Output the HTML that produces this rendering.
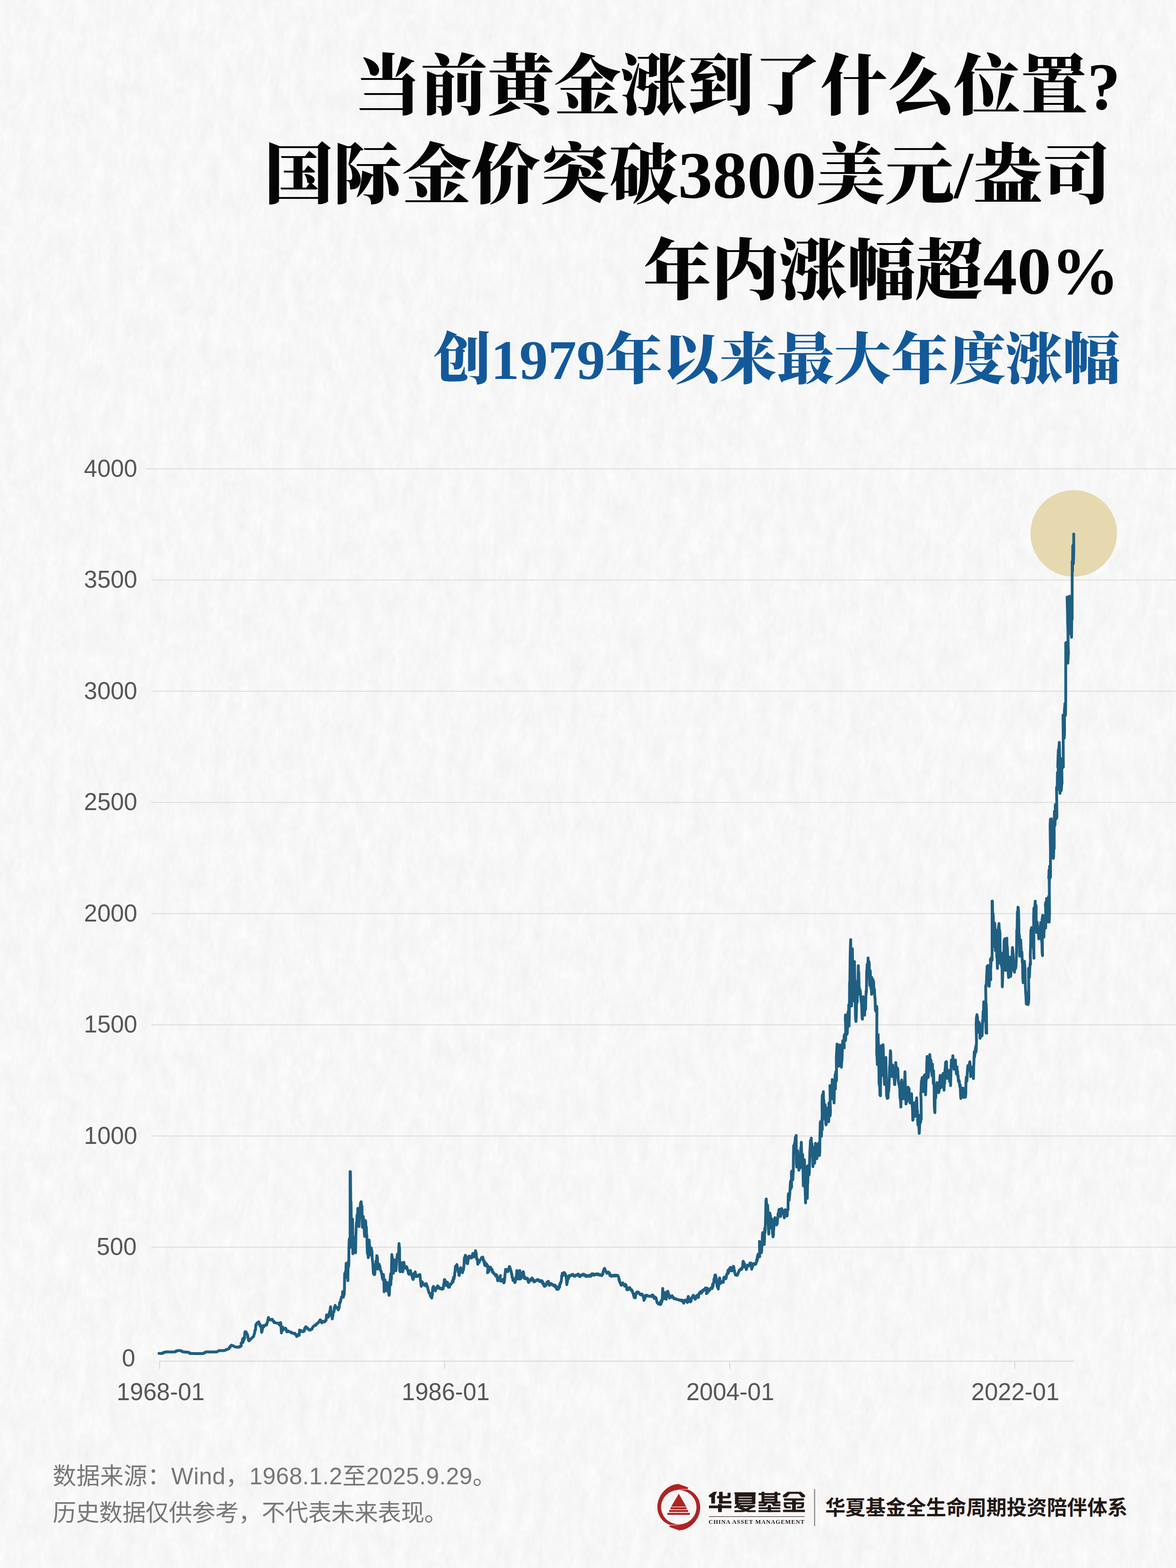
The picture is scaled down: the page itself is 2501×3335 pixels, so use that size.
<!DOCTYPE html>
<html lang="zh-CN"><head><meta charset="utf-8"><title>当前黄金涨到了什么位置？</title>
<style>
html,body{margin:0;padding:0}
body{width:2501px;height:3335px;position:relative;overflow:hidden;background:#f6f6f6;font-family:"Liberation Sans",sans-serif}
svg{position:absolute;left:0;top:0}
.sr{position:absolute;margin:0;color:transparent;white-space:nowrap;overflow:hidden;pointer-events:none}
.sr h1,.sr h2{margin:0;font-weight:bold;color:transparent}
.cam{position:absolute;left:1506.5px;top:3227.5px;font-family:"Liberation Serif",serif;font-weight:bold;font-size:12.6px;letter-spacing:1.05px;will-change:transform;color:#231815;white-space:nowrap;line-height:18px}
</style></head>
<body>
<svg width="2501" height="3335" viewBox="0 0 2501 3335">
<defs><filter id="paper" x="0" y="0" width="100%" height="100%" color-interpolation-filters="sRGB">
<feTurbulence type="fractalNoise" baseFrequency="0.04 0.018" numOctaves="3" seed="3" result="t1"/>
<feTurbulence type="fractalNoise" baseFrequency="0.12 0.06" numOctaves="2" seed="11" result="t2"/>
<feComposite in="t1" in2="t2" operator="arithmetic" k1="0" k2="0.62" k3="0.38" k4="0"/>
<feColorMatrix type="matrix" values="0.072 0 0 0 0.932  0.072 0 0 0 0.932  0.072 0 0 0 0.9315  0 0 0 0 1"/>
</filter></defs>
<g transform="rotate(3 1250 1667)"><rect x="-200" y="-200" width="2901" height="3735" filter="url(#paper)"/></g>
<text x="2383" y="232" text-anchor="end" textLength="1630" lengthAdjust="spacingAndGlyphs" font-family="&quot;Liberation Serif&quot;, &quot;Noto Serif CJK SC&quot;, serif" font-weight="900" font-size="141" fill="#050505">当前黄金涨到了什么位置?</text>
<text x="2363" y="421" text-anchor="end" textLength="1801" lengthAdjust="spacingAndGlyphs" font-family="&quot;Liberation Serif&quot;, &quot;Noto Serif CJK SC&quot;, serif" font-weight="900" font-size="141" fill="#050505">国际金价突破3800美元/盎司</text>
<text x="2380" y="625" text-anchor="end" textLength="1012" lengthAdjust="spacingAndGlyphs" font-family="&quot;Liberation Serif&quot;, &quot;Noto Serif CJK SC&quot;, serif" font-weight="900" font-size="141" fill="#050505">年内涨幅超40%</text>
<text x="2382" y="806" text-anchor="end" textLength="1460" lengthAdjust="spacingAndGlyphs" font-family="&quot;Liberation Serif&quot;, &quot;Noto Serif CJK SC&quot;, serif" font-weight="900" font-size="119" fill="#13599a">创1979年以来最大年度涨幅</text>
<rect x="310" y="996.4" width="2191" height="1.6" fill="#d8d6d4"/>
<rect x="322" y="1232.9" width="2179" height="1.6" fill="#d8d6d4"/>
<rect x="322" y="1469.4" width="2179" height="1.6" fill="#d8d6d4"/>
<rect x="322" y="1705.9" width="2179" height="1.6" fill="#d8d6d4"/>
<rect x="322" y="1942.4" width="2179" height="1.6" fill="#d8d6d4"/>
<rect x="322" y="2178.9" width="2179" height="1.6" fill="#d8d6d4"/>
<rect x="322" y="2415.4" width="2179" height="1.6" fill="#d8d6d4"/>
<rect x="322" y="2651.9" width="2179" height="1.6" fill="#d8d6d4"/>
<rect x="338.5" y="2894.3" width="1944.9" height="1.8" fill="#d8d6d4"/>
<rect x="338.5" y="2895.2" width="1.8" height="16.5" fill="#d8d6d4"/>
<rect x="944.7" y="2895.2" width="1.8" height="16.5" fill="#d8d6d4"/>
<rect x="1551.0" y="2895.2" width="1.8" height="16.5" fill="#d8d6d4"/>
<rect x="2157.2" y="2895.2" width="1.8" height="16.5" fill="#d8d6d4"/>
<g font-family="&quot;Liberation Sans&quot;, sans-serif" font-size="51" fill="#555756" text-anchor="end">
<text x="292" y="1013.8">4000</text>
<text x="292" y="1250.3">3500</text>
<text x="292" y="1486.8">3000</text>
<text x="292" y="1723.3">2500</text>
<text x="292" y="1959.8">2000</text>
<text x="292" y="2196.3">1500</text>
<text x="292" y="2432.8">1000</text>
<text x="290.5" y="2669.3">500</text>
<text x="287.5" y="2906.3">0</text>
</g>
<g font-family="&quot;Liberation Sans&quot;, sans-serif" font-size="51" fill="#555756" text-anchor="middle">
<text x="341.6" y="2978.2">1968-01</text>
<text x="947.9" y="2978.2">1986-01</text>
<text x="1553" y="2978.2">2004-01</text>
<text x="2159.2" y="2978.2">2022-01</text>
</g>
<circle cx="2283.5" cy="1134.4" r="92" fill="#e6d8af"/>
<path d="M338.1 2878.4 L338.8 2878.4 L339.4 2878.5 L340.1 2878.8 L340.8 2878.6 L341.4 2878.7 L342.1 2878.8 L342.8 2878.6 L343.4 2878.8 L344.1 2878.9 L344.8 2878.6 L345.4 2878.4 L346.1 2877.8 L346.7 2877.4 L347.4 2876.7 L348.0 2877.5 L348.7 2877.0 L349.3 2876.2 L350.0 2876.3 L350.6 2876.0 L351.3 2875.5 L352.0 2875.6 L352.7 2875.5 L353.4 2875.4 L354.1 2875.3 L354.7 2875.5 L355.4 2875.3 L356.1 2875.4 L356.8 2875.4 L357.5 2875.3 L358.2 2875.5 L358.9 2875.5 L359.6 2875.6 L360.3 2875.5 L361.0 2875.6 L361.6 2875.5 L362.3 2875.6 L363.0 2875.5 L363.7 2875.4 L364.4 2875.7 L365.1 2875.7 L365.8 2875.6 L366.5 2875.6 L367.2 2875.4 L367.8 2875.4 L368.5 2875.4 L369.2 2875.3 L369.9 2875.6 L370.6 2875.5 L371.3 2875.2 L371.9 2875.1 L372.6 2874.7 L373.3 2875.1 L373.9 2874.7 L374.6 2873.2 L375.2 2873.3 L375.9 2873.6 L376.6 2873.1 L377.2 2873.1 L377.9 2872.6 L378.6 2872.6 L379.2 2872.4 L379.9 2872.7 L380.5 2872.7 L381.2 2872.5 L381.9 2872.4 L382.5 2872.5 L383.2 2872.6 L383.9 2873.1 L384.5 2873.3 L385.2 2872.9 L385.9 2873.4 L386.5 2873.5 L387.2 2873.7 L387.9 2875.0 L388.6 2874.8 L389.2 2875.2 L389.9 2875.5 L390.6 2875.5 L391.3 2875.4 L392.0 2875.7 L392.7 2875.5 L393.4 2875.7 L394.1 2875.6 L394.8 2875.7 L395.4 2875.7 L396.1 2875.7 L396.8 2876.1 L397.5 2876.0 L398.2 2875.8 L398.9 2876.1 L399.6 2876.0 L400.3 2876.2 L400.9 2876.5 L401.6 2877.4 L402.3 2877.5 L402.9 2877.1 L403.6 2878.6 L404.3 2877.9 L404.9 2878.5 L405.6 2878.9 L406.3 2879.0 L407.0 2878.8 L407.7 2878.8 L408.4 2878.7 L409.1 2878.7 L409.8 2878.9 L410.5 2878.8 L411.2 2878.9 L411.9 2878.8 L412.6 2878.9 L413.3 2879.1 L414.0 2878.9 L414.7 2878.9 L415.4 2879.0 L416.1 2878.8 L416.8 2878.8 L417.5 2879.1 L418.2 2879.0 L418.9 2878.8 L419.5 2878.8 L420.2 2879.0 L420.9 2879.1 L421.6 2878.8 L422.3 2879.1 L423.0 2879.1 L423.7 2878.9 L424.4 2878.9 L425.1 2878.7 L425.8 2878.7 L426.5 2879.1 L427.2 2878.8 L427.9 2879.0 L428.6 2878.8 L429.3 2879.0 L430.0 2878.9 L430.7 2878.8 L431.4 2878.8 L432.1 2878.9 L432.8 2878.6 L433.4 2877.5 L434.1 2877.4 L434.8 2877.5 L435.4 2877.5 L436.1 2876.8 L436.8 2875.9 L437.4 2876.1 L438.1 2875.5 L438.8 2875.4 L439.5 2875.3 L440.2 2875.4 L440.9 2875.5 L441.6 2875.3 L442.3 2875.4 L443.0 2875.4 L443.7 2875.5 L444.4 2875.3 L445.1 2875.4 L445.8 2875.7 L446.5 2875.7 L447.2 2875.6 L447.9 2875.6 L448.6 2875.5 L449.3 2875.3 L450.0 2875.3 L450.7 2875.3 L451.4 2875.7 L452.1 2875.6 L452.8 2875.7 L453.5 2875.3 L454.2 2875.6 L454.9 2875.5 L455.6 2875.6 L456.3 2875.4 L457.0 2875.7 L457.7 2875.3 L458.4 2875.5 L459.1 2875.6 L459.8 2875.5 L460.5 2875.3 L461.2 2875.2 L461.8 2874.8 L462.5 2874.6 L463.2 2874.5 L463.9 2873.4 L464.5 2873.5 L465.2 2873.1 L465.9 2872.6 L466.6 2872.8 L467.2 2872.6 L467.9 2872.7 L468.6 2872.8 L469.3 2872.6 L469.9 2872.7 L470.6 2872.5 L471.3 2872.6 L472.0 2872.6 L472.6 2872.4 L473.3 2872.7 L474.0 2872.8 L474.7 2872.8 L475.3 2872.7 L476.0 2872.5 L476.7 2872.6 L477.4 2872.4 L478.1 2872.1 L478.8 2871.8 L479.5 2871.7 L480.2 2871.1 L480.9 2871.1 L481.5 2869.9 L482.2 2870.5 L482.9 2870.1 L483.6 2869.8 L484.3 2869.7 L485.0 2869.3 L485.7 2869.1 L486.4 2868.8 L487.1 2868.2 L487.7 2866.4 L488.4 2864.8 L489.1 2864.8 L489.7 2865.1 L490.4 2862.8 L491.1 2861.8 L491.7 2862.2 L492.4 2861.1 L493.0 2861.5 L493.7 2861.7 L494.3 2862.2 L495.0 2862.2 L495.6 2862.7 L496.3 2862.3 L496.9 2863.0 L497.6 2863.6 L498.2 2863.9 L498.9 2864.2 L499.5 2864.3 L500.2 2864.7 L500.8 2864.9 L501.5 2864.9 L502.1 2864.8 L502.8 2865.0 L503.5 2865.3 L504.1 2865.4 L504.8 2865.3 L505.4 2865.5 L506.1 2865.1 L506.8 2865.1 L507.4 2865.3 L508.1 2865.4 L508.8 2864.3 L509.5 2863.8 L510.2 2864.1 L510.8 2864.4 L511.5 2863.7 L512.2 2862.7 L512.9 2863.0 L512.9 2856.7 L513.6 2856.7 L514.2 2856.2 L514.9 2854.0 L515.5 2850.8 L516.2 2847.7 L516.8 2855.2 L517.5 2846.0 L518.1 2850.7 L518.8 2849.2 L519.4 2847.0 L520.1 2847.1 L520.6 2833.8 L521.2 2835.6 L521.8 2832.1 L522.4 2833.0 L523.1 2834.9 L523.7 2833.1 L524.3 2837.5 L524.9 2836.2 L525.5 2836.7 L526.2 2838.6 L526.8 2840.3 L527.4 2845.9 L528.0 2847.1 L528.7 2850.4 L529.3 2851.9 L530.0 2851.4 L530.6 2850.8 L531.3 2850.3 L532.0 2849.5 L532.7 2848.5 L533.3 2848.0 L534.0 2847.2 L534.7 2846.4 L535.4 2846.1 L536.0 2845.6 L536.7 2844.6 L537.4 2844.1 L538.1 2843.5 L538.7 2843.1 L539.4 2842.3 L540.1 2839.4 L540.7 2837.5 L541.4 2835.8 L542.1 2829.5 L542.7 2830.3 L543.4 2828.4 L544.1 2817.7 L544.7 2819.1 L545.4 2815.7 L546.1 2815.6 L546.8 2813.6 L547.5 2813.7 L548.2 2813.5 L548.9 2813.6 L549.6 2811.7 L550.3 2811.4 L551.0 2813.0 L551.7 2817.1 L552.4 2817.8 L553.0 2820.3 L553.7 2817.7 L554.4 2820.5 L555.1 2820.6 L555.7 2825.6 L556.3 2833.8 L556.9 2832.6 L557.5 2830.7 L558.1 2827.3 L558.7 2825.3 L559.3 2820.1 L559.9 2819.3 L560.6 2821.4 L561.2 2821.8 L561.9 2819.4 L562.5 2818.9 L563.2 2819.1 L563.8 2818.4 L564.5 2819.1 L565.1 2818.8 L565.8 2817.5 L566.4 2816.0 L567.1 2818.1 L567.7 2815.0 L568.4 2812.8 L569.0 2811.2 L569.7 2806.9 L570.3 2804.2 L571.0 2802.1 L571.7 2806.9 L572.3 2804.9 L573.0 2806.9 L573.7 2806.1 L574.4 2807.3 L575.1 2806.8 L575.8 2807.4 L576.5 2806.3 L577.1 2806.1 L577.8 2806.5 L578.5 2806.6 L579.2 2806.1 L579.9 2808.3 L580.6 2808.8 L581.3 2810.7 L581.9 2810.2 L582.6 2812.7 L583.3 2810.9 L584.0 2813.3 L584.7 2813.1 L585.4 2813.5 L586.1 2813.4 L586.8 2813.9 L587.5 2814.0 L588.2 2814.0 L588.9 2814.4 L589.6 2814.2 L590.3 2814.1 L591.0 2814.2 L591.7 2814.8 L592.4 2815.0 L593.1 2814.4 L593.8 2817.3 L594.5 2818.3 L595.2 2815.2 L595.9 2815.6 L596.6 2813.0 L597.3 2815.3 L597.9 2825.4 L598.5 2835.0 L599.1 2830.5 L599.7 2825.9 L600.4 2826.7 L601.1 2822.5 L601.8 2829.3 L602.5 2826.0 L603.2 2825.5 L603.9 2826.2 L604.6 2826.1 L605.3 2825.9 L606.0 2826.4 L606.7 2824.8 L607.4 2826.0 L608.1 2825.9 L608.7 2828.4 L609.3 2831.4 L610.0 2832.7 L610.7 2832.7 L611.3 2831.0 L612.0 2831.6 L612.7 2830.7 L613.4 2831.8 L614.0 2832.3 L614.7 2832.3 L615.4 2832.1 L616.1 2832.4 L616.7 2832.6 L617.4 2832.8 L618.0 2833.6 L618.7 2834.4 L619.3 2833.3 L620.0 2834.8 L620.6 2834.2 L621.3 2834.6 L621.9 2835.0 L622.6 2835.5 L623.3 2835.9 L623.9 2835.7 L624.6 2835.9 L625.3 2836.5 L625.9 2836.0 L626.6 2837.5 L627.3 2835.8 L627.9 2837.2 L628.6 2837.4 L629.2 2838.1 L629.8 2839.3 L630.4 2841.4 L631.0 2842.7 L631.6 2841.8 L632.2 2840.6 L632.8 2840.1 L633.4 2839.8 L634.0 2840.0 L634.6 2838.1 L635.1 2838.3 L635.7 2840.5 L636.3 2839.8 L636.7 2835.0 L637.1 2829.0 L637.7 2829.5 L638.3 2831.3 L638.9 2830.7 L639.5 2832.1 L640.1 2829.9 L640.7 2831.4 L641.4 2831.9 L642.1 2832.2 L642.8 2832.1 L643.4 2831.6 L644.1 2831.7 L644.8 2832.4 L645.5 2832.1 L646.2 2829.5 L646.9 2831.2 L647.6 2829.3 L648.2 2824.7 L648.9 2823.7 L649.6 2824.2 L650.3 2821.8 L651.0 2822.2 L651.6 2822.7 L652.3 2824.1 L653.0 2824.2 L653.6 2826.0 L654.3 2824.5 L654.9 2826.1 L655.6 2827.2 L656.3 2827.3 L656.9 2828.1 L657.6 2829.0 L658.3 2828.9 L658.9 2829.1 L659.6 2829.0 L660.3 2827.3 L660.9 2827.7 L661.6 2827.8 L662.3 2827.1 L662.9 2827.4 L663.6 2826.6 L664.2 2824.7 L664.8 2823.4 L665.4 2822.5 L666.0 2821.3 L666.6 2821.7 L667.2 2820.6 L667.9 2820.1 L668.6 2819.8 L669.3 2818.7 L669.9 2818.2 L670.6 2817.7 L671.3 2817.8 L672.0 2818.6 L672.7 2816.8 L673.4 2815.5 L674.1 2815.0 L674.7 2815.3 L675.4 2814.3 L676.1 2814.1 L676.8 2813.3 L677.4 2812.0 L678.0 2811.7 L678.6 2811.1 L679.2 2810.1 L679.9 2809.8 L680.5 2807.4 L681.1 2808.6 L681.7 2807.3 L682.3 2809.8 L682.9 2809.4 L683.5 2811.7 L684.1 2813.3 L683.9 2813.0 L684.6 2813.4 L685.3 2812.0 L686.0 2811.1 L686.6 2810.7 L687.3 2811.3 L688.0 2810.4 L688.7 2811.6 L689.4 2810.6 L690.1 2810.9 L690.8 2811.3 L691.4 2809.8 L692.1 2808.4 L692.8 2809.0 L693.5 2808.2 L694.0 2802.4 L694.5 2796.6 L695.1 2799.7 L695.8 2799.7 L696.4 2797.8 L697.0 2801.8 L697.7 2801.8 L698.3 2801.4 L699.0 2800.5 L699.7 2797.7 L700.4 2791.1 L701.0 2792.0 L701.7 2789.2 L702.4 2784.2 L703.1 2779.2 L703.7 2786.1 L704.3 2790.4 L704.9 2791.4 L705.4 2798.7 L706.0 2796.9 L706.6 2805.3 L707.3 2800.6 L708.0 2798.5 L708.7 2790.5 L709.4 2790.9 L710.0 2790.6 L710.7 2787.3 L711.4 2779.9 L712.1 2780.8 L712.8 2776.3 L713.3 2779.2 L713.8 2781.2 L714.5 2780.7 L715.2 2781.9 L715.9 2781.5 L716.5 2781.3 L717.2 2780.7 L717.9 2782.6 L718.6 2781.2 L719.0 2784.6 L719.5 2786.0 L720.1 2784.5 L720.8 2782.0 L721.5 2780.6 L722.1 2771.1 L722.8 2772.3 L723.4 2768.6 L724.1 2769.5 L724.8 2763.6 L725.5 2762.9 L726.1 2758.8 L726.8 2758.2 L727.5 2757.8 L728.2 2757.0 L728.7 2747.3 L729.2 2751.3 L729.8 2747.5 L730.4 2758.9 L730.9 2753.3 L731.5 2753.0 L732.1 2753.2 L732.5 2741.3 L733.0 2708.8 L733.6 2707.7 L734.3 2714.1 L735.0 2704.0 L735.6 2705.1 L736.2 2687.0 L736.9 2693.4 L737.4 2707.1 L737.9 2716.5 L738.5 2718.1 L739.2 2698.0 L739.8 2723.8 L740.4 2684.2 L741.1 2694.4 L741.7 2691.5 L742.1 2652.9 L742.7 2635.6 L743.4 2648.8 L744.0 2652.3 L744.6 2645.2 L744.6 2491.8 L745.2 2492.3 L745.9 2556.0 L746.5 2556.4 L747.0 2600.9 L747.5 2652.9 L748.1 2639.2 L748.6 2627.6 L749.2 2601.8 L749.8 2593.1 L750.4 2666.4 L751.0 2651.4 L751.6 2656.5 L752.1 2647.2 L752.7 2633.0 L753.3 2631.7 L753.9 2643.9 L754.5 2639.5 L755.0 2640.0 L755.6 2652.1 L756.2 2664.5 L756.8 2628.3 L757.5 2610.7 L758.1 2600.8 L758.7 2603.1 L759.3 2584.8 L759.8 2595.5 L760.4 2584.4 L761.0 2569.9 L761.6 2575.8 L762.3 2604.9 L762.9 2608.5 L763.5 2608.6 L764.2 2583.7 L764.8 2591.2 L765.5 2573.7 L766.1 2566.3 L766.8 2558.4 L767.4 2569.2 L768.0 2556.0 L768.5 2562.9 L769.1 2572.5 L769.7 2565.1 L770.2 2592.2 L770.7 2610.5 L771.3 2602.0 L772.0 2606.3 L772.6 2587.3 L773.2 2603.3 L773.8 2606.7 L774.3 2603.7 L774.9 2623.2 L775.5 2629.7 L776.0 2613.6 L776.4 2598.9 L777.0 2595.9 L777.7 2598.5 L778.3 2615.1 L779.0 2609.2 L779.6 2623.0 L780.3 2629.7 L780.8 2651.6 L781.3 2664.5 L781.9 2667.3 L782.6 2667.6 L783.2 2675.1 L783.8 2664.0 L784.5 2648.7 L785.1 2637.5 L785.7 2647.7 L786.3 2650.3 L786.8 2663.2 L787.4 2668.6 L788.0 2668.3 L788.6 2669.6 L789.2 2659.0 L789.7 2654.4 L790.3 2668.6 L790.9 2660.6 L791.5 2674.2 L792.1 2680.6 L792.6 2684.7 L793.2 2692.0 L793.8 2705.0 L794.4 2709.5 L795.0 2708.5 L795.5 2710.1 L796.1 2711.1 L796.7 2710.8 L797.3 2707.8 L797.9 2694.9 L798.4 2689.9 L799.0 2694.2 L799.6 2681.8 L800.2 2686.0 L800.8 2684.0 L801.3 2670.8 L801.9 2671.1 L802.5 2674.1 L803.0 2684.3 L803.4 2699.2 L804.0 2697.5 L804.7 2698.5 L805.3 2692.3 L806.0 2695.8 L806.6 2689.0 L807.3 2693.4 L807.9 2693.0 L808.6 2699.7 L809.2 2700.7 L809.9 2703.7 L810.6 2703.4 L811.2 2706.9 L811.8 2710.6 L812.5 2710.3 L813.1 2718.5 L813.7 2715.8 L814.3 2721.3 L814.8 2722.3 L815.4 2710.6 L816.0 2716.5 L816.5 2727.5 L816.9 2747.4 L817.6 2742.6 L818.2 2732.1 L818.9 2722.3 L819.5 2729.3 L820.2 2726.7 L820.8 2733.0 L821.4 2735.4 L822.1 2744.4 L822.7 2745.5 L823.2 2735.2 L823.7 2728.1 L824.4 2734.2 L825.0 2743.1 L825.7 2739.5 L826.3 2746.7 L827.0 2753.6 L827.6 2755.1 L828.2 2749.5 L828.9 2731.1 L829.5 2722.3 L830.1 2718.1 L830.7 2709.6 L831.2 2732.3 L831.8 2708.3 L832.4 2720.4 L832.8 2686.3 L833.3 2668.3 L834.0 2673.4 L834.6 2675.7 L835.3 2679.9 L836.0 2697.4 L836.6 2707.9 L837.2 2697.1 L837.9 2698.0 L838.5 2682.2 L839.1 2679.9 L839.7 2681.0 L840.3 2691.1 L840.8 2688.6 L841.4 2696.0 L842.0 2703.0 L842.7 2696.4 L843.3 2688.6 L844.0 2676.0 L844.6 2671.0 L845.3 2667.4 L845.9 2670.5 L846.5 2676.3 L847.2 2668.7 L847.8 2670.2 L848.2 2651.9 L848.7 2645.0 L849.2 2656.5 L849.7 2652.9 L850.1 2703.0 L850.7 2701.4 L851.3 2704.9 L851.9 2702.7 L852.4 2699.4 L853.0 2687.4 L853.6 2685.7 L854.2 2695.2 L854.8 2691.7 L855.3 2695.7 L855.9 2700.3 L856.5 2705.0 L857.1 2701.9 L857.8 2694.9 L858.4 2684.7 L859.0 2685.1 L859.6 2688.6 L860.1 2691.1 L860.7 2693.6 L861.3 2697.3 L861.9 2696.2 L862.6 2695.7 L863.2 2694.0 L863.9 2695.6 L864.6 2696.9 L865.2 2694.4 L865.8 2697.1 L866.5 2701.4 L867.1 2702.0 L867.7 2701.9 L868.4 2708.1 L869.0 2708.8 L869.6 2710.2 L870.3 2705.7 L871.0 2703.5 L871.6 2704.4 L872.2 2703.4 L872.9 2702.1 L873.5 2704.5 L874.2 2710.2 L874.8 2709.8 L875.5 2713.1 L876.1 2709.3 L876.8 2715.3 L877.4 2719.4 L878.1 2716.4 L878.7 2721.4 L879.3 2716.0 L880.0 2717.8 L880.6 2716.4 L881.2 2708.2 L881.9 2709.4 L882.5 2705.9 L883.1 2705.2 L883.7 2711.1 L884.2 2711.8 L884.8 2711.7 L885.4 2714.6 L886.0 2713.0 L886.7 2715.2 L887.3 2713.8 L888.0 2713.8 L888.6 2712.7 L889.2 2712.2 L889.9 2713.8 L890.5 2712.4 L891.2 2711.7 L891.8 2711.8 L892.5 2713.3 L893.1 2710.8 L893.7 2717.9 L894.3 2724.9 L894.8 2724.9 L895.4 2734.0 L896.0 2735.8 L896.7 2734.2 L897.3 2732.8 L898.0 2726.2 L898.6 2728.5 L899.3 2729.5 L899.9 2730.6 L900.5 2731.8 L901.2 2731.1 L901.8 2731.4 L902.4 2733.1 L903.1 2733.9 L903.7 2733.9 L904.3 2732.9 L904.9 2732.1 L905.4 2730.5 L906.0 2731.5 L906.6 2730.0 L907.3 2736.1 L908.0 2734.1 L908.7 2735.1 L909.4 2737.8 L910.1 2741.9 L910.8 2743.4 L911.5 2747.4 L912.2 2749.5 L912.8 2749.4 L913.5 2750.3 L914.2 2750.5 L914.9 2755.0 L915.5 2757.1 L916.2 2754.0 L916.9 2754.3 L917.5 2759.2 L918.2 2760.9 L918.8 2757.0 L919.4 2755.3 L919.9 2742.9 L920.5 2738.9 L921.1 2737.8 L921.8 2736.0 L922.5 2737.4 L923.2 2738.7 L923.8 2743.1 L924.5 2743.7 L925.2 2743.3 L925.9 2745.5 L926.6 2742.4 L927.3 2741.4 L928.0 2739.3 L928.7 2740.7 L929.4 2737.0 L930.1 2736.7 L930.8 2734.9 L931.4 2736.7 L932.1 2736.4 L932.7 2736.5 L933.3 2739.3 L934.0 2740.2 L934.6 2739.7 L935.3 2739.4 L936.0 2740.1 L936.7 2741.0 L937.4 2740.4 L938.1 2739.9 L938.8 2739.7 L939.5 2741.9 L940.2 2741.6 L940.9 2740.3 L941.6 2741.7 L942.3 2741.6 L942.9 2737.7 L943.5 2731.7 L944.0 2733.5 L944.6 2726.7 L945.2 2721.4 L945.8 2721.7 L946.4 2722.4 L946.9 2728.7 L947.5 2730.7 L948.1 2733.9 L948.7 2734.2 L949.3 2732.7 L949.8 2730.6 L950.4 2726.7 L951.0 2727.1 L951.6 2727.5 L952.2 2730.5 L952.7 2732.3 L953.3 2737.5 L953.9 2737.8 L954.5 2737.0 L955.2 2736.8 L955.8 2737.7 L956.5 2733.4 L957.1 2733.6 L957.8 2731.1 L958.4 2732.9 L959.1 2730.0 L959.7 2730.0 L960.3 2729.5 L961.0 2729.5 L961.6 2728.4 L962.3 2723.7 L962.9 2723.6 L963.6 2726.4 L964.2 2717.3 L964.9 2721.3 L965.5 2720.4 L966.1 2715.1 L966.7 2714.9 L967.2 2706.3 L967.8 2704.2 L968.4 2695.3 L969.0 2692.7 L969.7 2697.5 L970.3 2692.9 L970.9 2694.6 L971.6 2689.4 L972.2 2692.4 L972.9 2698.6 L973.5 2696.7 L974.2 2702.9 L974.8 2706.2 L975.5 2706.4 L976.1 2712.7 L976.7 2712.8 L977.4 2705.9 L978.0 2703.1 L978.6 2698.7 L979.3 2697.6 L979.9 2696.3 L980.5 2697.9 L981.1 2701.1 L981.8 2700.9 L982.4 2704.5 L983.0 2703.2 L983.6 2707.1 L984.3 2702.4 L984.9 2698.3 L985.6 2701.2 L986.3 2695.1 L986.9 2688.5 L987.6 2675.3 L988.3 2676.3 L988.9 2674.3 L989.6 2669.7 L990.3 2670.2 L991.0 2675.4 L991.7 2677.1 L992.4 2676.1 L993.1 2686.5 L993.8 2687.6 L994.5 2687.8 L995.1 2681.8 L995.7 2680.8 L996.3 2674.5 L996.9 2672.1 L997.6 2671.6 L998.2 2673.2 L998.9 2671.8 L999.6 2673.1 L1000.2 2673.7 L1000.9 2675.4 L1001.6 2673.6 L1002.2 2673.7 L1002.9 2675.7 L1003.5 2674.5 L1004.1 2670.0 L1004.7 2670.9 L1005.3 2666.1 L1005.9 2667.6 L1006.5 2670.1 L1007.1 2668.5 L1007.7 2673.3 L1008.3 2669.5 L1008.9 2673.3 L1009.5 2667.7 L1010.1 2664.1 L1010.7 2664.6 L1011.3 2660.1 L1011.9 2666.1 L1012.5 2663.6 L1013.1 2669.8 L1013.8 2678.4 L1014.4 2679.2 L1015.0 2677.1 L1015.6 2682.3 L1016.2 2689.0 L1016.8 2686.3 L1017.4 2684.9 L1018.0 2685.0 L1018.6 2682.3 L1019.2 2684.9 L1019.8 2681.8 L1020.5 2680.3 L1021.2 2679.8 L1021.9 2679.3 L1022.5 2678.8 L1023.2 2678.0 L1023.9 2675.0 L1024.6 2674.5 L1025.3 2674.7 L1026.0 2675.6 L1026.7 2673.6 L1027.3 2677.3 L1028.0 2680.3 L1028.7 2683.2 L1029.4 2680.6 L1030.0 2686.9 L1030.6 2690.2 L1031.3 2691.2 L1031.9 2691.8 L1032.6 2685.8 L1033.3 2689.3 L1033.9 2689.6 L1034.6 2692.6 L1035.2 2688.8 L1035.9 2691.1 L1036.6 2692.2 L1037.2 2694.3 L1037.9 2692.6 L1037.3 2702.0 L1036.7 2707.1 L1037.4 2706.6 L1038.0 2702.4 L1038.7 2705.2 L1039.3 2704.9 L1040.0 2701.4 L1040.6 2698.9 L1041.2 2698.6 L1041.9 2696.4 L1042.5 2696.8 L1043.2 2695.0 L1043.9 2697.3 L1044.5 2697.7 L1045.2 2700.3 L1045.9 2702.4 L1046.6 2699.8 L1047.2 2705.8 L1047.9 2705.1 L1048.6 2705.1 L1049.2 2706.2 L1049.9 2708.3 L1050.6 2708.4 L1051.2 2709.5 L1051.9 2710.3 L1052.6 2709.8 L1053.2 2712.7 L1053.9 2710.6 L1054.5 2711.9 L1055.2 2710.8 L1055.9 2715.6 L1056.5 2711.9 L1057.2 2714.3 L1057.8 2721.1 L1058.4 2724.0 L1059.1 2723.0 L1059.7 2721.9 L1060.4 2720.7 L1061.1 2717.9 L1061.7 2720.1 L1062.4 2719.4 L1063.1 2717.2 L1063.7 2714.8 L1064.4 2713.1 L1063.8 2716.0 L1063.2 2722.7 L1063.9 2724.4 L1064.6 2721.9 L1065.3 2724.9 L1065.9 2721.8 L1066.6 2723.5 L1067.3 2724.9 L1068.0 2721.7 L1068.7 2723.7 L1069.4 2721.3 L1070.1 2722.8 L1070.7 2720.7 L1071.4 2728.5 L1072.1 2728.1 L1072.8 2724.0 L1073.4 2719.5 L1074.0 2710.0 L1074.6 2707.5 L1075.2 2699.8 L1075.9 2702.8 L1076.6 2700.0 L1077.3 2702.8 L1078.0 2703.7 L1078.7 2700.7 L1079.4 2702.4 L1080.1 2704.7 L1080.7 2702.3 L1081.3 2698.4 L1082.0 2697.5 L1082.6 2696.4 L1083.2 2693.8 L1083.9 2693.9 L1084.6 2697.9 L1085.2 2697.6 L1085.9 2702.5 L1086.6 2702.3 L1087.3 2705.9 L1087.9 2710.3 L1088.5 2709.2 L1089.1 2715.9 L1089.7 2717.9 L1090.4 2716.8 L1091.0 2723.6 L1091.7 2721.6 L1092.4 2721.5 L1093.0 2722.2 L1093.7 2724.1 L1094.4 2726.3 L1095.0 2727.9 L1095.7 2726.4 L1096.3 2724.8 L1096.9 2718.2 L1097.5 2719.1 L1098.1 2713.6 L1098.7 2709.7 L1099.3 2702.3 L1099.9 2705.9 L1100.5 2710.7 L1101.2 2716.3 L1101.8 2720.3 L1102.4 2720.4 L1103.0 2714.5 L1103.6 2711.5 L1104.2 2707.8 L1104.8 2708.4 L1105.4 2702.3 L1106.0 2709.9 L1106.6 2720.3 L1107.3 2715.2 L1107.9 2718.6 L1108.6 2718.2 L1109.3 2715.1 L1109.9 2712.4 L1110.6 2711.6 L1111.3 2706.8 L1111.9 2707.0 L1112.6 2704.7 L1113.2 2705.5 L1113.8 2709.5 L1114.4 2715.2 L1115.0 2719.1 L1115.7 2719.2 L1116.3 2718.7 L1117.0 2716.5 L1117.7 2720.0 L1118.3 2719.7 L1119.0 2718.7 L1119.6 2719.1 L1120.3 2719.6 L1121.0 2719.1 L1121.6 2718.6 L1122.3 2720.3 L1122.9 2724.9 L1123.5 2726.4 L1124.1 2727.6 L1124.8 2725.9 L1125.4 2726.1 L1126.1 2723.9 L1126.7 2724.7 L1127.4 2721.9 L1128.0 2723.5 L1128.7 2722.0 L1129.3 2722.1 L1130.0 2720.1 L1130.6 2721.4 L1131.3 2718.1 L1131.9 2719.1 L1132.5 2720.5 L1133.1 2723.4 L1133.7 2720.7 L1134.3 2722.9 L1134.9 2724.4 L1135.5 2726.4 L1136.2 2725.3 L1136.8 2723.8 L1137.5 2726.0 L1138.1 2725.5 L1138.8 2724.3 L1139.4 2723.7 L1140.1 2724.0 L1140.7 2722.6 L1141.4 2722.2 L1142.0 2723.3 L1142.7 2721.9 L1143.3 2721.9 L1144.0 2721.5 L1144.7 2723.3 L1145.4 2724.0 L1146.1 2723.0 L1146.7 2722.7 L1147.4 2723.5 L1148.1 2725.9 L1148.8 2725.2 L1149.4 2725.9 L1150.0 2724.1 L1150.6 2725.3 L1151.2 2724.1 L1151.8 2724.1 L1152.4 2724.0 L1153.1 2724.6 L1153.7 2728.8 L1154.4 2730.8 L1155.1 2727.7 L1155.7 2731.4 L1156.4 2730.3 L1157.1 2735.4 L1157.7 2733.9 L1158.4 2736.0 L1159.1 2734.4 L1159.7 2734.4 L1160.4 2732.7 L1161.1 2734.1 L1161.7 2733.0 L1162.4 2731.2 L1163.0 2727.2 L1163.7 2729.0 L1164.4 2729.1 L1165.0 2725.9 L1165.7 2725.2 L1166.3 2725.4 L1166.9 2728.2 L1167.5 2730.7 L1168.1 2733.6 L1168.7 2733.9 L1169.3 2731.1 L1169.9 2730.4 L1170.5 2730.0 L1171.1 2731.1 L1171.7 2730.0 L1172.4 2731.4 L1173.1 2730.7 L1173.8 2732.0 L1174.4 2733.2 L1175.1 2732.8 L1175.8 2732.3 L1176.5 2733.6 L1177.2 2733.5 L1177.8 2735.2 L1178.5 2734.8 L1179.2 2733.7 L1179.8 2735.5 L1180.5 2733.4 L1181.2 2737.6 L1181.8 2735.5 L1182.5 2736.0 L1183.1 2739.1 L1183.7 2742.0 L1184.3 2742.1 L1184.9 2740.4 L1185.6 2742.4 L1186.2 2741.2 L1186.8 2741.1 L1187.4 2742.0 L1188.1 2740.8 L1188.7 2735.8 L1189.4 2735.4 L1190.1 2737.9 L1190.7 2730.6 L1191.4 2729.2 L1192.1 2730.4 L1192.7 2726.2 L1193.4 2726.4 L1194.0 2722.2 L1194.6 2713.1 L1195.3 2715.4 L1195.9 2708.0 L1196.6 2710.8 L1197.3 2712.5 L1197.9 2708.8 L1198.6 2710.7 L1199.3 2708.4 L1199.9 2706.4 L1200.6 2707.1 L1201.2 2708.9 L1201.8 2711.0 L1202.4 2709.3 L1203.0 2713.5 L1203.6 2715.9 L1204.2 2714.3 L1204.8 2723.5 L1205.4 2732.4 L1206.0 2728.5 L1206.6 2727.2 L1207.2 2722.0 L1207.8 2716.7 L1208.5 2716.4 L1209.2 2719.3 L1209.9 2713.2 L1210.6 2715.5 L1211.3 2713.9 L1212.0 2714.3 L1212.7 2712.7 L1213.3 2713.2 L1214.0 2713.4 L1214.7 2713.0 L1215.4 2712.5 L1216.1 2710.8 L1216.8 2711.1 L1217.5 2710.7 L1218.1 2710.4 L1218.7 2712.1 L1219.3 2712.5 L1219.9 2711.7 L1220.5 2714.0 L1221.1 2714.3 L1221.8 2714.7 L1222.5 2714.0 L1223.2 2714.2 L1223.9 2712.7 L1224.6 2712.4 L1225.3 2711.8 L1225.9 2712.5 L1226.6 2712.1 L1227.3 2711.9 L1228.0 2711.3 L1228.7 2712.5 L1229.4 2709.7 L1230.1 2712.4 L1230.8 2710.7 L1231.4 2712.1 L1232.0 2713.2 L1232.6 2715.3 L1233.2 2715.5 L1233.9 2714.1 L1234.5 2713.2 L1235.2 2713.3 L1235.9 2711.8 L1236.5 2712.2 L1237.2 2712.7 L1237.9 2711.9 L1238.5 2710.8 L1239.2 2710.7 L1239.9 2711.1 L1240.6 2709.8 L1241.3 2712.2 L1241.9 2710.4 L1242.6 2710.8 L1243.3 2710.7 L1244.0 2711.9 L1244.6 2713.6 L1245.2 2714.3 L1245.9 2715.1 L1246.5 2714.9 L1247.2 2712.9 L1247.9 2713.8 L1248.6 2713.6 L1249.2 2713.4 L1249.9 2714.7 L1250.6 2712.9 L1251.2 2713.7 L1251.9 2714.1 L1252.6 2714.5 L1253.3 2712.8 L1253.9 2713.3 L1254.6 2714.1 L1255.3 2711.9 L1256.0 2712.4 L1256.6 2714.4 L1257.3 2713.1 L1257.9 2710.2 L1258.5 2709.5 L1259.2 2709.4 L1259.8 2709.4 L1260.5 2710.1 L1261.2 2709.3 L1261.8 2709.4 L1262.5 2712.4 L1263.2 2712.1 L1263.8 2712.3 L1264.5 2711.9 L1265.1 2710.8 L1265.7 2710.4 L1266.3 2710.8 L1266.9 2709.6 L1267.5 2709.8 L1268.1 2709.5 L1268.8 2710.8 L1269.4 2709.5 L1270.1 2709.7 L1270.7 2711.2 L1271.4 2710.6 L1272.0 2709.4 L1272.7 2710.5 L1273.3 2711.3 L1274.0 2710.3 L1274.6 2711.0 L1275.3 2711.9 L1275.9 2712.4 L1276.6 2711.9 L1277.3 2711.9 L1278.0 2712.4 L1278.7 2711.3 L1279.3 2711.0 L1280.0 2713.2 L1280.7 2710.1 L1281.4 2710.7 L1282.0 2710.3 L1282.6 2705.0 L1283.2 2703.8 L1283.8 2700.8 L1284.4 2700.9 L1285.0 2698.6 L1285.7 2697.8 L1286.4 2699.3 L1287.1 2700.9 L1287.7 2703.3 L1288.4 2703.8 L1289.1 2705.6 L1289.8 2707.1 L1290.5 2708.1 L1291.2 2707.4 L1291.8 2707.8 L1292.5 2706.0 L1293.2 2706.6 L1293.9 2705.5 L1294.5 2707.8 L1295.2 2706.6 L1295.9 2707.1 L1296.5 2709.2 L1297.1 2713.1 L1297.8 2711.3 L1298.4 2711.9 L1299.1 2712.2 L1299.8 2712.7 L1300.5 2714.7 L1301.1 2713.5 L1301.8 2712.7 L1302.5 2712.8 L1303.1 2712.4 L1303.8 2713.9 L1304.5 2712.8 L1305.2 2713.6 L1305.8 2713.5 L1306.5 2713.9 L1307.2 2712.2 L1307.9 2712.8 L1308.5 2712.9 L1309.2 2712.3 L1309.9 2713.8 L1310.5 2712.8 L1311.2 2713.6 L1311.9 2713.1 L1312.6 2712.3 L1313.2 2712.4 L1313.9 2713.1 L1314.5 2713.7 L1315.1 2714.7 L1315.8 2717.6 L1316.4 2722.8 L1317.0 2720.3 L1317.6 2726.4 L1318.2 2726.0 L1318.8 2728.2 L1319.4 2730.2 L1320.0 2729.7 L1320.6 2733.2 L1321.2 2733.6 L1321.8 2731.4 L1322.4 2732.1 L1323.0 2730.5 L1323.6 2728.8 L1324.2 2728.4 L1324.8 2729.4 L1325.4 2730.5 L1326.0 2732.7 L1326.6 2732.5 L1327.2 2733.6 L1327.8 2733.0 L1328.4 2735.5 L1329.0 2731.6 L1329.6 2731.7 L1330.2 2731.8 L1330.8 2732.4 L1331.4 2733.6 L1332.0 2735.4 L1332.6 2738.1 L1333.2 2743.2 L1333.9 2743.3 L1334.6 2742.5 L1335.2 2743.2 L1335.9 2742.6 L1336.6 2739.9 L1337.3 2740.5 L1337.9 2740.8 L1338.6 2738.5 L1339.3 2738.4 L1340.0 2740.2 L1340.7 2741.1 L1341.4 2743.3 L1342.0 2744.0 L1342.7 2742.6 L1343.4 2745.2 L1344.1 2745.7 L1344.8 2745.2 L1345.5 2749.4 L1346.2 2751.2 L1346.8 2751.2 L1347.5 2755.3 L1348.2 2757.0 L1348.9 2760.1 L1349.5 2760.1 L1350.1 2759.1 L1350.7 2758.6 L1351.3 2760.1 L1351.9 2754.9 L1352.5 2750.5 L1353.2 2750.3 L1353.8 2748.6 L1354.5 2750.9 L1355.2 2748.7 L1355.8 2747.8 L1356.5 2749.4 L1357.2 2749.4 L1357.8 2748.4 L1358.5 2749.3 L1359.1 2750.4 L1359.7 2751.5 L1360.3 2751.9 L1361.0 2753.1 L1361.6 2751.8 L1362.2 2754.1 L1362.8 2753.8 L1363.5 2753.9 L1364.1 2753.6 L1364.7 2754.0 L1365.3 2752.3 L1366.0 2754.7 L1366.6 2755.3 L1367.2 2754.9 L1367.8 2757.5 L1368.4 2759.5 L1369.0 2761.9 L1369.6 2765.8 L1370.2 2761.6 L1370.8 2761.4 L1371.4 2762.3 L1372.1 2758.9 L1372.7 2755.5 L1373.3 2754.9 L1374.0 2755.9 L1374.7 2754.8 L1375.4 2755.4 L1376.0 2755.8 L1376.7 2756.4 L1377.4 2755.7 L1378.1 2756.3 L1378.8 2756.9 L1379.5 2756.8 L1380.2 2756.8 L1380.8 2757.0 L1381.5 2756.8 L1382.2 2757.0 L1382.9 2757.3 L1383.6 2756.7 L1384.2 2757.5 L1384.9 2757.4 L1385.6 2755.9 L1386.2 2757.2 L1386.9 2754.3 L1387.6 2754.3 L1388.2 2755.2 L1388.9 2754.9 L1389.5 2756.7 L1390.1 2759.7 L1390.7 2759.4 L1391.3 2761.7 L1391.9 2759.0 L1392.5 2758.4 L1393.2 2758.8 L1393.8 2761.8 L1394.4 2759.5 L1395.0 2761.0 L1395.6 2761.2 L1396.2 2766.0 L1396.8 2767.7 L1397.4 2770.6 L1398.1 2769.7 L1398.8 2771.6 L1399.5 2773.0 L1400.1 2772.8 L1400.8 2773.5 L1401.5 2773.8 L1402.2 2774.2 L1402.9 2773.7 L1403.5 2774.2 L1404.2 2770.7 L1404.9 2768.6 L1405.5 2774.2 L1406.2 2766.3 L1406.9 2770.3 L1407.5 2768.6 L1408.2 2765.8 L1408.8 2754.9 L1409.4 2740.5 L1410.0 2750.4 L1410.6 2754.5 L1411.2 2753.5 L1411.8 2762.2 L1412.4 2761.1 L1413.0 2757.7 L1413.7 2756.1 L1414.3 2752.2 L1414.9 2749.6 L1415.5 2748.9 L1416.1 2757.9 L1416.7 2763.4 L1417.3 2760.3 L1417.9 2754.8 L1418.6 2751.5 L1419.2 2748.7 L1419.8 2746.5 L1420.5 2746.7 L1421.2 2751.4 L1421.8 2751.4 L1422.5 2753.5 L1423.2 2755.9 L1423.9 2761.0 L1424.6 2757.9 L1425.3 2760.2 L1426.0 2757.7 L1426.6 2758.1 L1427.3 2758.3 L1428.0 2756.7 L1428.7 2756.1 L1429.3 2755.9 L1429.9 2758.9 L1430.5 2759.7 L1431.1 2758.0 L1431.7 2759.4 L1432.3 2761.0 L1433.0 2761.2 L1433.7 2762.3 L1434.3 2761.5 L1435.0 2762.2 L1435.7 2761.8 L1436.4 2762.7 L1437.1 2762.3 L1437.8 2762.6 L1438.4 2763.4 L1439.1 2763.7 L1439.8 2763.9 L1440.5 2763.8 L1441.2 2763.8 L1441.8 2764.4 L1442.5 2764.6 L1443.2 2764.6 L1443.9 2765.2 L1444.6 2765.4 L1445.3 2764.6 L1445.9 2765.1 L1446.6 2765.7 L1447.3 2765.2 L1448.0 2765.1 L1448.7 2765.3 L1449.4 2766.4 L1450.1 2767.6 L1450.7 2767.9 L1451.4 2765.4 L1452.1 2767.5 L1452.8 2767.0 L1453.4 2769.1 L1454.0 2771.8 L1454.6 2770.7 L1455.2 2768.5 L1455.8 2768.7 L1456.4 2765.8 L1457.1 2767.7 L1457.8 2764.8 L1458.4 2767.3 L1459.1 2765.0 L1459.8 2764.9 L1460.5 2766.4 L1461.1 2768.8 L1461.8 2770.3 L1462.5 2768.2 L1463.1 2760.9 L1463.7 2757.3 L1464.3 2759.2 L1464.9 2760.4 L1465.5 2765.7 L1466.1 2768.2 L1466.7 2767.9 L1467.3 2767.2 L1467.9 2766.7 L1468.5 2768.9 L1469.1 2768.5 L1469.7 2767.0 L1470.3 2762.8 L1470.9 2761.0 L1471.5 2759.4 L1472.1 2759.6 L1472.7 2759.4 L1473.3 2759.5 L1473.9 2755.3 L1474.5 2754.9 L1475.1 2757.1 L1475.7 2757.9 L1476.3 2760.4 L1476.9 2759.1 L1477.5 2760.6 L1478.1 2763.4 L1478.7 2760.5 L1479.3 2762.8 L1479.9 2758.8 L1480.6 2758.5 L1481.2 2755.9 L1481.8 2756.1 L1482.4 2755.8 L1483.0 2754.7 L1483.6 2758.2 L1484.2 2757.0 L1484.8 2759.6 L1485.4 2759.7 L1486.0 2754.6 L1486.6 2751.3 L1487.3 2749.9 L1487.9 2750.7 L1488.6 2749.8 L1489.3 2748.8 L1489.9 2747.2 L1490.6 2748.2 L1491.3 2750.8 L1491.9 2748.6 L1492.6 2748.9 L1493.2 2745.9 L1493.8 2745.3 L1494.5 2744.1 L1495.1 2744.5 L1495.8 2745.6 L1496.4 2743.0 L1497.1 2744.5 L1497.7 2743.0 L1498.4 2742.3 L1499.0 2743.9 L1499.7 2741.4 L1500.3 2739.4 L1501.0 2741.5 L1501.6 2741.7 L1502.3 2740.5 L1503.0 2741.3 L1503.7 2739.7 L1504.4 2743.2 L1505.0 2743.0 L1505.7 2743.9 L1506.4 2741.2 L1507.1 2741.7 L1506.4 2744.8 L1505.7 2745.6 L1505.0 2744.2 L1504.4 2744.8 L1503.7 2746.9 L1503.0 2748.0 L1502.3 2751.3 L1502.9 2748.4 L1503.6 2749.1 L1504.2 2750.4 L1504.9 2747.4 L1505.5 2747.7 L1506.2 2744.4 L1506.8 2744.7 L1507.5 2746.1 L1508.1 2743.9 L1508.8 2744.0 L1509.4 2743.7 L1510.1 2742.9 L1510.7 2741.7 L1511.4 2741.1 L1512.0 2739.4 L1512.7 2740.2 L1513.4 2739.4 L1514.0 2738.2 L1514.7 2740.4 L1515.4 2731.5 L1516.0 2737.0 L1516.7 2733.2 L1517.3 2728.8 L1517.9 2727.7 L1518.5 2720.3 L1519.1 2718.8 L1519.7 2721.0 L1520.3 2712.3 L1520.8 2715.8 L1521.4 2711.6 L1522.0 2712.7 L1522.7 2716.7 L1523.3 2721.7 L1524.0 2728.4 L1524.6 2732.3 L1525.2 2736.2 L1525.8 2733.6 L1526.4 2738.8 L1527.0 2737.9 L1527.6 2741.7 L1528.2 2734.0 L1528.8 2733.9 L1529.4 2722.9 L1530.0 2718.8 L1530.6 2717.9 L1531.1 2722.9 L1531.7 2727.2 L1532.4 2729.4 L1533.0 2725.9 L1533.7 2728.3 L1534.4 2727.4 L1535.1 2728.0 L1535.7 2725.8 L1536.4 2725.4 L1537.1 2725.6 L1537.7 2726.5 L1538.4 2727.2 L1538.9 2718.8 L1539.6 2718.3 L1540.3 2716.1 L1541.0 2718.4 L1541.7 2717.5 L1542.3 2716.8 L1543.0 2718.2 L1543.7 2719.8 L1544.4 2717.6 L1545.1 2712.7 L1545.7 2710.3 L1546.4 2710.6 L1547.0 2706.9 L1547.7 2707.5 L1548.3 2701.6 L1549.0 2708.1 L1549.6 2702.0 L1550.3 2704.2 L1550.9 2699.3 L1551.6 2698.1 L1552.2 2698.1 L1552.9 2695.9 L1553.5 2695.7 L1554.1 2697.3 L1554.7 2700.3 L1555.3 2703.0 L1555.9 2701.0 L1556.5 2703.1 L1557.1 2699.9 L1557.7 2699.0 L1558.3 2701.3 L1558.9 2694.4 L1559.5 2695.9 L1560.1 2693.4 L1560.7 2696.0 L1561.3 2701.0 L1561.9 2701.6 L1562.5 2706.7 L1563.1 2708.4 L1563.7 2711.3 L1564.3 2711.8 L1565.0 2710.7 L1565.6 2710.5 L1566.2 2711.5 L1566.8 2710.5 L1567.4 2712.7 L1568.1 2712.0 L1568.7 2711.1 L1569.4 2708.4 L1570.1 2708.3 L1570.7 2705.6 L1571.4 2704.0 L1572.1 2701.8 L1572.7 2702.2 L1573.4 2700.7 L1574.1 2700.6 L1574.8 2700.1 L1575.5 2698.4 L1576.1 2700.3 L1576.8 2698.6 L1577.5 2699.4 L1578.2 2698.3 L1578.8 2695.0 L1579.4 2693.5 L1580.0 2684.0 L1580.6 2682.6 L1581.3 2683.9 L1581.9 2689.2 L1582.6 2688.9 L1583.2 2687.3 L1583.9 2692.1 L1584.5 2695.5 L1585.2 2692.6 L1585.8 2696.5 L1586.5 2694.8 L1587.1 2700.1 L1587.8 2699.5 L1588.4 2695.8 L1589.1 2692.2 L1589.7 2690.7 L1590.4 2693.0 L1591.0 2691.8 L1591.7 2692.7 L1592.3 2691.8 L1593.0 2691.1 L1593.6 2689.7 L1594.3 2692.2 L1594.9 2686.3 L1595.6 2690.7 L1596.2 2689.4 L1596.9 2686.3 L1597.5 2687.4 L1598.1 2695.3 L1598.7 2699.5 L1599.3 2696.8 L1599.9 2694.9 L1600.5 2694.4 L1601.1 2689.8 L1601.8 2687.9 L1602.4 2688.2 L1603.1 2690.2 L1603.8 2688.2 L1604.4 2689.3 L1605.1 2689.7 L1605.8 2688.8 L1606.4 2686.8 L1607.1 2688.6 L1607.7 2688.0 L1608.3 2685.7 L1608.9 2682.2 L1609.6 2677.7 L1610.2 2681.7 L1610.8 2671.7 L1611.5 2677.1 L1612.2 2667.6 L1612.9 2670.5 L1613.5 2667.3 L1614.2 2666.7 L1614.9 2670.8 L1615.6 2672.9 L1615.1 2640.4 L1615.8 2649.1 L1616.5 2652.7 L1617.2 2645.6 L1617.8 2650.8 L1618.5 2658.5 L1619.2 2664.5 L1619.8 2660.8 L1620.4 2646.7 L1621.0 2640.8 L1621.6 2624.7 L1622.2 2621.5 L1622.8 2641.4 L1623.5 2628.9 L1624.1 2640.8 L1624.7 2641.6 L1625.3 2647.1 L1625.9 2635.9 L1626.4 2612.4 L1627.0 2621.0 L1627.6 2609.1 L1628.3 2587.2 L1628.9 2554.0 L1629.6 2550.0 L1630.1 2557.3 L1630.7 2568.3 L1631.2 2584.9 L1631.8 2577.6 L1632.5 2563.2 L1633.1 2572.6 L1633.7 2596.7 L1634.3 2614.5 L1634.9 2624.7 L1635.5 2606.4 L1636.1 2594.0 L1636.7 2595.6 L1637.3 2580.1 L1637.9 2585.3 L1638.5 2585.3 L1639.0 2590.1 L1639.6 2611.7 L1640.2 2609.1 L1640.6 2602.8 L1640.9 2592.2 L1641.5 2597.2 L1642.1 2601.8 L1642.8 2622.8 L1643.4 2626.1 L1644.0 2630.8 L1644.7 2627.7 L1645.4 2614.9 L1646.0 2607.3 L1646.7 2602.0 L1647.4 2591.0 L1648.1 2589.8 L1648.7 2594.5 L1649.3 2594.4 L1649.9 2600.1 L1650.5 2599.2 L1651.1 2602.3 L1651.7 2605.4 L1652.3 2601.3 L1652.9 2603.0 L1653.6 2590.6 L1654.2 2591.3 L1654.8 2580.7 L1655.4 2580.1 L1656.0 2579.1 L1656.6 2572.9 L1657.2 2576.8 L1657.8 2571.7 L1658.4 2573.8 L1659.0 2582.6 L1659.6 2585.0 L1660.2 2587.4 L1660.8 2582.8 L1661.4 2582.6 L1662.0 2573.8 L1662.6 2570.5 L1663.3 2574.6 L1663.9 2575.4 L1664.6 2576.1 L1665.3 2574.7 L1665.9 2579.8 L1666.6 2580.6 L1667.3 2584.1 L1667.9 2590.2 L1668.6 2588.6 L1669.2 2579.1 L1669.8 2572.9 L1670.4 2576.1 L1671.0 2577.5 L1671.6 2573.2 L1672.2 2577.7 L1672.8 2574.4 L1673.4 2582.5 L1674.0 2586.4 L1674.7 2573.7 L1675.3 2574.0 L1675.9 2572.9 L1676.3 2542.7 L1676.9 2538.7 L1677.6 2549.9 L1678.2 2553.0 L1678.9 2544.3 L1679.5 2541.5 L1680.1 2531.4 L1680.7 2518.6 L1681.3 2512.2 L1681.9 2528.4 L1682.4 2509.8 L1683.0 2519.4 L1683.6 2524.7 L1683.1 2494.5 L1683.7 2490.9 L1684.3 2501.7 L1684.9 2499.3 L1685.5 2490.0 L1686.1 2509.0 L1686.7 2495.7 L1687.1 2492.4 L1687.4 2458.4 L1688.0 2436.5 L1688.6 2452.5 L1689.1 2440.8 L1689.7 2432.0 L1690.3 2430.6 L1690.9 2426.4 L1691.5 2418.8 L1692.0 2425.4 L1692.6 2420.7 L1693.2 2415.0 L1693.6 2457.0 L1693.9 2476.4 L1694.5 2482.3 L1695.1 2475.6 L1695.7 2451.8 L1696.3 2447.5 L1696.9 2464.8 L1697.6 2468.0 L1698.2 2475.6 L1698.9 2488.8 L1699.5 2488.5 L1700.1 2472.3 L1700.7 2475.1 L1701.2 2467.5 L1701.8 2467.1 L1702.4 2457.2 L1703.0 2441.4 L1703.5 2455.4 L1704.1 2429.4 L1704.7 2446.7 L1705.3 2483.7 L1705.9 2470.9 L1706.6 2454.8 L1707.2 2458.4 L1707.8 2486.8 L1708.4 2522.3 L1709.0 2519.3 L1709.6 2479.6 L1710.2 2468.7 L1710.8 2466.8 L1711.4 2495.0 L1712.0 2517.0 L1712.6 2543.4 L1713.2 2558.4 L1713.8 2531.0 L1714.4 2530.1 L1715.0 2508.2 L1715.6 2481.3 L1716.2 2522.9 L1716.8 2548.8 L1717.4 2521.2 L1718.0 2515.3 L1718.7 2479.1 L1719.3 2483.7 L1719.9 2497.5 L1720.5 2499.3 L1721.1 2495.4 L1721.7 2476.4 L1722.3 2448.7 L1723.0 2439.3 L1723.6 2425.8 L1724.2 2427.8 L1724.8 2428.9 L1725.3 2420.8 L1725.9 2437.0 L1726.5 2431.8 L1727.1 2439.8 L1727.7 2456.7 L1728.3 2460.7 L1728.9 2481.3 L1729.5 2472.4 L1730.1 2453.4 L1730.7 2442.3 L1731.3 2440.3 L1731.9 2457.4 L1732.5 2474.0 L1733.1 2455.8 L1733.6 2451.5 L1734.2 2431.8 L1734.8 2433.8 L1735.4 2443.3 L1736.1 2443.5 L1736.7 2452.9 L1737.3 2464.4 L1737.9 2459.5 L1738.5 2456.8 L1739.2 2450.9 L1739.8 2457.7 L1740.4 2431.8 L1741.0 2439.1 L1741.6 2451.7 L1742.2 2433.9 L1742.8 2457.6 L1743.4 2448.7 L1743.8 2411.3 L1744.2 2400.1 L1744.5 2387.0 L1745.1 2385.6 L1745.7 2395.6 L1746.3 2410.0 L1747.0 2416.7 L1747.6 2393.9 L1748.2 2377.9 L1748.8 2402.2 L1748.2 2345.8 L1748.9 2329.1 L1749.6 2343.7 L1750.3 2335.2 L1751.0 2321.9 L1751.5 2343.1 L1752.1 2340.6 L1752.7 2366.8 L1753.2 2380.5 L1753.7 2350.8 L1754.2 2350.1 L1754.9 2349.9 L1755.6 2365.8 L1756.2 2390.4 L1756.9 2392.4 L1757.5 2386.0 L1758.0 2381.2 L1758.6 2365.3 L1759.2 2357.8 L1759.8 2366.7 L1760.4 2356.6 L1761.1 2364.0 L1761.7 2360.8 L1762.3 2385.7 L1762.9 2376.2 L1762.9 2345.8 L1763.6 2345.1 L1764.2 2353.3 L1764.9 2361.6 L1765.5 2373.3 L1766.2 2365.3 L1765.7 2350.9 L1765.1 2308.9 L1765.8 2315.7 L1766.4 2318.3 L1767.0 2335.6 L1767.7 2324.4 L1768.3 2326.9 L1769.0 2337.1 L1769.5 2323.1 L1769.9 2295.9 L1770.6 2297.5 L1771.2 2308.9 L1771.8 2319.3 L1772.5 2328.7 L1773.2 2334.5 L1773.8 2345.8 L1774.3 2322.7 L1774.9 2304.6 L1775.5 2301.5 L1776.1 2285.5 L1776.7 2316.0 L1777.4 2279.8 L1778.0 2299.6 L1778.6 2299.3 L1779.2 2295.9 L1778.6 2248.1 L1779.2 2239.6 L1779.7 2228.7 L1780.3 2220.5 L1780.8 2223.5 L1781.4 2222.1 L1782.1 2231.8 L1782.8 2252.0 L1783.5 2267.7 L1784.2 2251.0 L1784.8 2255.7 L1785.5 2241.4 L1786.1 2222.4 L1786.8 2224.3 L1787.5 2233.4 L1788.1 2258.3 L1788.8 2246.6 L1789.4 2269.8 L1790.1 2258.2 L1790.8 2254.2 L1791.5 2223.8 L1792.2 2213.4 L1792.9 2220.3 L1793.5 2214.3 L1794.2 2214.6 L1794.8 2228.4 L1795.5 2228.6 L1795.0 2203.7 L1795.6 2206.6 L1796.2 2199.9 L1796.8 2205.2 L1797.5 2206.3 L1798.1 2213.1 L1798.7 2206.9 L1798.2 2173.7 L1797.6 2165.7 L1798.2 2158.5 L1798.9 2167.4 L1799.5 2172.2 L1800.1 2191.4 L1800.7 2185.8 L1801.4 2199.9 L1802.0 2196.1 L1802.5 2174.5 L1803.1 2161.3 L1803.7 2151.8 L1804.4 2168.7 L1805.0 2137.6 L1805.7 2182.5 L1806.3 2157.0 L1806.8 2091.9 L1807.4 2085.7 L1808.0 2036.3 L1808.6 2012.4 L1809.2 1998.6 L1809.8 2062.2 L1810.5 2107.4 L1811.1 2139.6 L1811.7 2106.4 L1812.2 2035.7 L1812.8 2018.1 L1813.4 2068.7 L1814.0 2068.6 L1814.6 2128.8 L1815.2 2114.3 L1815.9 2089.7 L1816.5 2088.2 L1817.2 2045.2 L1817.8 2083.0 L1818.5 2085.0 L1819.2 2159.2 L1819.8 2170.0 L1820.5 2172.6 L1821.2 2155.3 L1821.9 2119.1 L1822.6 2133.1 L1823.2 2127.8 L1823.7 2097.8 L1824.3 2093.6 L1824.8 2085.7 L1825.4 2053.9 L1825.9 2081.8 L1826.4 2068.1 L1826.9 2096.2 L1827.6 2109.3 L1828.2 2102.4 L1828.9 2114.8 L1829.5 2106.5 L1830.2 2115.8 L1830.8 2122.9 L1831.5 2131.2 L1832.2 2132.8 L1832.8 2146.2 L1833.4 2164.7 L1834.1 2167.8 L1834.6 2141.8 L1835.1 2126.9 L1835.6 2120.1 L1836.3 2135.4 L1836.9 2139.5 L1837.6 2144.8 L1838.2 2141.2 L1838.9 2159.2 L1839.5 2132.9 L1840.2 2130.4 L1840.8 2146.9 L1841.5 2120.0 L1842.1 2107.1 L1842.6 2110.8 L1843.2 2066.2 L1843.8 2061.0 L1844.3 2050.7 L1844.9 2050.8 L1845.5 2058.3 L1846.2 2037.5 L1846.8 2057.4 L1847.4 2045.4 L1848.0 2045.2 L1848.6 2050.9 L1849.1 2077.2 L1849.7 2096.2 L1850.2 2076.8 L1850.8 2064.8 L1851.5 2082.5 L1852.2 2102.5 L1852.9 2102.0 L1853.6 2114.7 L1854.1 2078.9 L1854.7 2086.5 L1855.3 2082.5 L1855.9 2093.5 L1856.6 2083.8 L1857.2 2101.6 L1857.8 2087.6 L1858.4 2100.6 L1859.1 2112.7 L1859.7 2104.4 L1860.4 2121.4 L1861.0 2121.6 L1861.7 2148.3 L1862.3 2139.8 L1863.0 2151.2 L1863.6 2146.6 L1864.3 2140.2 L1864.9 2144.0 L1864.5 2241.6 L1865.2 2247.4 L1865.8 2264.2 L1866.4 2242.7 L1867.1 2252.5 L1867.5 2200.4 L1868.2 2231.7 L1868.9 2253.7 L1869.6 2305.7 L1870.3 2308.9 L1870.8 2306.2 L1871.4 2329.0 L1872.0 2312.6 L1872.5 2330.6 L1873.0 2267.8 L1873.6 2224.3 L1874.2 2249.4 L1874.9 2258.8 L1875.5 2261.6 L1876.2 2287.2 L1876.8 2247.8 L1877.3 2257.1 L1877.9 2222.1 L1878.6 2235.0 L1879.2 2263.1 L1879.9 2270.6 L1880.5 2294.5 L1881.2 2306.7 L1881.9 2294.7 L1882.6 2297.2 L1883.3 2276.7 L1884.0 2249.2 L1884.5 2274.9 L1885.0 2303.0 L1885.5 2330.6 L1886.1 2320.9 L1886.8 2336.1 L1887.4 2314.4 L1888.0 2319.6 L1888.6 2335.3 L1889.3 2306.9 L1889.9 2321.9 L1890.6 2310.9 L1891.3 2289.4 L1892.0 2269.8 L1892.5 2263.6 L1893.1 2248.6 L1893.7 2234.8 L1894.2 2238.4 L1894.8 2265.9 L1895.3 2269.8 L1895.9 2283.4 L1896.4 2289.4 L1896.9 2273.7 L1897.4 2282.0 L1897.9 2268.8 L1898.6 2265.1 L1899.3 2271.5 L1900.0 2281.6 L1900.7 2285.0 L1901.2 2292.7 L1901.8 2288.1 L1902.4 2306.7 L1902.9 2306.7 L1903.5 2296.7 L1904.0 2291.7 L1904.5 2280.6 L1905.1 2260.1 L1905.7 2269.9 L1906.4 2269.0 L1907.0 2287.0 L1907.7 2288.1 L1908.3 2289.4 L1908.8 2272.0 L1909.5 2276.3 L1910.2 2295.4 L1910.9 2301.8 L1911.6 2306.7 L1912.2 2306.0 L1912.8 2312.4 L1913.4 2312.0 L1914.1 2334.9 L1914.7 2335.3 L1915.3 2343.0 L1915.9 2354.5 L1916.5 2321.7 L1917.0 2300.2 L1917.6 2297.0 L1918.2 2310.4 L1918.8 2310.8 L1919.5 2316.4 L1920.1 2320.0 L1920.7 2332.1 L1921.3 2337.1 L1922.0 2335.8 L1922.6 2304.8 L1923.3 2312.5 L1923.9 2300.9 L1924.6 2279.6 L1925.1 2299.7 L1925.7 2315.0 L1926.2 2337.3 L1926.8 2348.0 L1927.4 2343.7 L1928.1 2341.9 L1928.7 2343.7 L1929.4 2334.6 L1930.0 2321.9 L1930.7 2316.8 L1931.3 2312.2 L1932.0 2324.6 L1932.6 2314.6 L1933.3 2315.4 L1933.8 2327.3 L1934.3 2326.6 L1934.9 2337.5 L1935.4 2345.8 L1936.1 2340.0 L1936.7 2344.1 L1937.4 2346.0 L1938.0 2330.4 L1938.7 2326.3 L1939.3 2341.9 L1940.0 2351.0 L1940.7 2362.4 L1941.3 2382.7 L1941.9 2380.8 L1942.4 2349.1 L1943.0 2345.8 L1943.7 2361.2 L1944.3 2358.9 L1945.0 2352.7 L1945.6 2374.8 L1946.3 2371.8 L1946.9 2355.8 L1947.6 2358.5 L1948.2 2341.4 L1948.9 2353.0 L1949.5 2334.9 L1950.0 2343.8 L1950.6 2370.5 L1951.2 2362.8 L1951.7 2387.0 L1952.3 2393.2 L1953.0 2380.1 L1953.7 2379.8 L1954.3 2397.0 L1954.9 2410.5 L1955.6 2399.0 L1956.0 2390.6 L1956.5 2371.8 L1957.2 2388.0 L1957.9 2387.3 L1958.6 2379.2 L1959.3 2380.5 L1958.8 2336.7 L1958.2 2326.3 L1958.9 2320.4 L1959.5 2299.8 L1960.2 2306.5 L1960.8 2293.5 L1961.5 2291.5 L1962.0 2299.1 L1962.6 2295.9 L1963.2 2321.6 L1963.7 2321.9 L1964.4 2311.5 L1965.1 2303.8 L1965.8 2287.8 L1966.5 2286.1 L1967.0 2297.3 L1967.5 2310.9 L1968.0 2320.8 L1968.5 2328.5 L1969.1 2310.1 L1969.7 2291.5 L1970.2 2295.9 L1970.7 2273.8 L1971.2 2258.5 L1971.7 2247.1 L1972.2 2264.2 L1972.8 2282.2 L1973.4 2290.6 L1973.9 2291.5 L1974.5 2287.4 L1975.0 2273.2 L1975.6 2250.3 L1976.2 2258.2 L1976.8 2259.9 L1977.4 2242.9 L1978.1 2252.6 L1978.7 2255.1 L1979.3 2256.8 L1979.9 2254.6 L1980.5 2268.3 L1981.0 2278.5 L1981.7 2281.2 L1982.3 2287.9 L1983.0 2263.3 L1983.6 2281.0 L1984.3 2280.7 L1984.9 2304.7 L1985.4 2277.2 L1986.0 2298.0 L1986.5 2306.9 L1987.0 2351.4 L1987.5 2361.0 L1988.2 2366.4 L1988.8 2328.9 L1989.5 2323.0 L1990.1 2334.7 L1990.8 2317.6 L1991.3 2318.4 L1991.8 2310.5 L1992.4 2308.1 L1992.9 2302.4 L1993.6 2310.0 L1994.2 2314.9 L1994.9 2306.8 L1995.5 2312.3 L1996.2 2324.1 L1996.9 2321.8 L1997.5 2317.6 L1998.2 2307.8 L1998.8 2293.0 L1999.5 2287.2 L2000.2 2293.0 L2000.9 2301.9 L2001.6 2313.2 L2002.2 2301.5 L2002.9 2309.1 L2003.5 2296.2 L2004.1 2297.3 L2004.7 2292.0 L2005.4 2283.8 L2006.0 2282.9 L2006.6 2298.4 L2007.1 2305.8 L2007.7 2318.7 L2008.3 2300.4 L2009.0 2304.9 L2009.7 2275.5 L2010.3 2272.0 L2011.0 2259.6 L2011.6 2258.7 L2012.2 2260.9 L2012.9 2257.9 L2013.6 2280.7 L2014.2 2293.7 L2014.8 2287.8 L2015.4 2282.9 L2016.1 2287.3 L2016.7 2276.2 L2017.3 2278.5 L2018.0 2283.2 L2018.7 2281.5 L2019.4 2300.2 L2020.1 2295.9 L2020.6 2293.0 L2021.1 2298.4 L2021.6 2308.9 L2022.2 2286.2 L2022.7 2268.7 L2023.3 2254.6 L2023.9 2260.1 L2024.6 2259.0 L2025.2 2261.9 L2025.8 2256.2 L2026.4 2245.5 L2027.1 2258.8 L2027.7 2255.7 L2028.2 2261.8 L2028.8 2274.2 L2029.4 2266.9 L2030.1 2265.3 L2030.7 2268.4 L2031.4 2256.9 L2032.0 2254.6 L2032.2 2270.2 L2032.8 2269.5 L2033.4 2278.3 L2034.0 2284.0 L2034.7 2272.9 L2035.3 2268.9 L2035.9 2283.6 L2036.5 2278.9 L2037.0 2289.3 L2037.6 2287.4 L2038.2 2299.4 L2038.7 2300.6 L2039.3 2299.0 L2040.0 2298.1 L2040.6 2306.7 L2041.3 2311.6 L2041.9 2307.1 L2042.4 2316.5 L2043.0 2332.0 L2043.5 2336.4 L2044.2 2324.1 L2044.9 2326.1 L2045.6 2319.2 L2046.3 2315.8 L2046.9 2314.1 L2047.6 2328.3 L2048.2 2322.5 L2048.9 2327.2 L2049.5 2334.3 L2050.1 2330.3 L2050.6 2314.7 L2051.3 2324.3 L2051.9 2326.2 L2052.6 2318.5 L2053.2 2333.6 L2053.9 2326.7 L2054.3 2302.8 L2055.0 2290.9 L2055.7 2298.4 L2056.4 2299.4 L2057.1 2283.3 L2057.8 2271.3 L2058.4 2266.2 L2059.1 2276.4 L2059.7 2275.5 L2060.4 2265.9 L2060.9 2267.6 L2061.5 2269.3 L2062.1 2259.5 L2062.6 2258.3 L2063.2 2266.8 L2063.7 2273.3 L2064.3 2289.8 L2065.0 2281.9 L2065.6 2288.7 L2066.2 2269.4 L2066.9 2272.4 L2067.6 2271.3 L2068.2 2278.5 L2068.9 2277.8 L2069.5 2284.6 L2070.2 2294.1 L2070.7 2268.3 L2071.2 2259.4 L2071.9 2237.0 L2072.5 2248.4 L2073.2 2242.9 L2073.8 2238.3 L2074.5 2229.0 L2075.1 2238.3 L2075.6 2223.5 L2076.1 2235.7 L2076.7 2216.0 L2076.0 2178.0 L2076.6 2163.6 L2077.1 2164.7 L2077.7 2157.9 L2078.2 2161.5 L2078.8 2163.9 L2079.3 2181.6 L2079.9 2194.7 L2080.4 2195.3 L2081.0 2188.5 L2081.5 2173.6 L2082.1 2174.7 L2082.7 2179.6 L2083.2 2193.0 L2083.8 2195.7 L2084.3 2208.4 L2085.0 2206.1 L2085.6 2201.9 L2086.2 2185.4 L2086.9 2179.1 L2087.5 2189.6 L2088.0 2203.6 L2088.6 2202.9 L2089.2 2189.0 L2089.7 2169.5 L2090.2 2174.6 L2090.8 2150.9 L2091.5 2169.6 L2092.1 2130.7 L2092.8 2159.8 L2093.4 2148.7 L2094.0 2151.4 L2094.5 2144.5 L2095.1 2168.2 L2095.8 2158.1 L2096.4 2164.4 L2097.1 2197.0 L2097.7 2178.0 L2098.4 2197.5 L2097.8 2150.1 L2097.3 2134.8 L2096.8 2137.8 L2096.2 2098.8 L2096.8 2094.7 L2097.4 2098.1 L2098.0 2085.0 L2098.7 2067.3 L2099.3 2055.2 L2099.9 2065.1 L2100.5 2070.5 L2101.2 2053.5 L2101.8 2069.0 L2102.5 2092.9 L2103.1 2085.5 L2103.8 2097.7 L2104.4 2082.3 L2104.9 2068.4 L2105.4 2078.6 L2106.0 2066.6 L2106.6 2072.4 L2107.1 2083.6 L2106.4 2040.2 L2107.0 2060.5 L2107.6 2045.1 L2108.2 2036.9 L2108.7 2043.7 L2109.3 2039.9 L2109.9 2042.3 L2109.9 1916.4 L2110.6 1916.6 L2111.3 1956.4 L2112.0 1943.6 L2112.5 1953.3 L2113.1 2010.4 L2113.6 2011.9 L2114.1 2012.8 L2114.6 1998.0 L2115.1 1963.1 L2115.7 1965.0 L2116.2 1987.9 L2116.8 2021.7 L2117.3 2011.9 L2117.9 1978.3 L2118.6 1986.3 L2119.2 1998.0 L2119.9 2035.8 L2120.5 2034.1 L2121.2 2059.7 L2121.7 2041.2 L2122.2 2004.7 L2122.8 2011.4 L2123.3 1974.0 L2124.0 1968.6 L2124.6 1964.3 L2125.3 1987.9 L2125.9 1978.0 L2126.6 1985.9 L2127.2 2048.8 L2127.8 2046.2 L2128.3 2037.8 L2128.8 2051.2 L2129.4 2027.1 L2129.9 2045.7 L2130.5 2057.6 L2131.1 2059.1 L2131.6 2098.8 L2132.2 2085.6 L2132.7 2063.4 L2133.2 2062.7 L2133.8 2046.7 L2134.4 2042.1 L2135.0 2025.2 L2135.6 2000.0 L2136.2 2006.6 L2136.8 1996.7 L2137.4 2018.6 L2137.9 2045.7 L2138.5 2064.0 L2139.1 2062.6 L2139.6 2027.2 L2140.1 2016.5 L2140.7 2003.3 L2141.2 1995.4 L2141.8 2026.7 L2142.3 2014.2 L2142.9 2029.3 L2143.6 2056.5 L2144.3 2072.1 L2145.0 2079.2 L2145.6 2060.5 L2146.1 2067.1 L2146.6 2046.7 L2147.2 2035.8 L2147.8 2043.5 L2148.5 2056.4 L2149.2 2076.9 L2149.8 2073.8 L2150.4 2063.8 L2151.0 2053.8 L2151.6 2038.9 L2152.1 2043.9 L2152.7 2025.0 L2153.3 2015.2 L2154.0 2022.1 L2154.6 2029.3 L2155.2 2042.3 L2155.9 2059.7 L2156.4 2064.3 L2157.0 2060.9 L2157.6 2067.7 L2158.1 2048.8 L2158.7 2061.6 L2159.4 2052.5 L2160.0 2059.6 L2160.7 2054.1 L2161.3 2042.3 L2161.9 2024.7 L2162.4 1978.3 L2163.1 1980.2 L2163.7 1939.4 L2164.3 1955.8 L2165.0 1929.5 L2165.6 1930.8 L2166.1 1938.2 L2166.7 1959.8 L2167.3 2001.9 L2167.9 1989.2 L2168.5 2033.6 L2169.1 2025.4 L2169.6 2009.7 L2170.1 2016.9 L2170.7 1998.9 L2171.3 2010.9 L2172.0 2027.3 L2172.7 2034.6 L2173.3 2025.0 L2174.0 2046.6 L2174.6 2041.5 L2175.2 2080.0 L2175.9 2090.1 L2176.6 2067.6 L2177.3 2085.4 L2178.0 2069.9 L2178.7 2044.5 L2179.3 2053.3 L2180.0 2064.2 L2180.6 2095.2 L2181.3 2112.0 L2181.9 2118.3 L2182.6 2135.2 L2183.2 2124.5 L2183.9 2111.2 L2184.5 2128.9 L2185.2 2123.7 L2185.8 2111.3 L2186.3 2136.8 L2186.9 2132.9 L2187.4 2133.3 L2188.0 2122.6 L2187.4 2059.7 L2188.0 2072.4 L2188.6 2060.8 L2189.2 2078.7 L2189.9 2061.9 L2190.5 2053.1 L2191.1 2046.3 L2191.7 2051.0 L2191.1 2031.5 L2191.8 2009.4 L2192.5 1977.6 L2193.2 1988.1 L2193.8 1973.1 L2194.3 1997.4 L2194.9 1973.2 L2195.4 1989.1 L2196.0 1981.6 L2196.6 2006.4 L2197.2 2012.9 L2197.7 2016.1 L2198.3 2018.5 L2198.9 2038.0 L2198.6 1984.4 L2198.2 1951.2 L2198.8 1931.6 L2199.3 1947.0 L2199.9 1943.3 L2200.4 1949.5 L2201.0 1924.0 L2201.7 1916.8 L2202.3 1944.5 L2202.9 1944.4 L2203.6 1926.2 L2203.6 1977.2 L2204.2 1966.5 L2204.7 1983.4 L2205.2 1968.8 L2205.8 1960.9 L2206.5 1982.5 L2207.1 1983.7 L2207.8 1977.2 L2208.4 1982.7 L2209.1 1996.7 L2209.7 1992.2 L2210.3 1986.5 L2210.9 1972.4 L2211.6 1985.0 L2212.2 1973.1 L2212.8 1966.1 L2213.4 1962.0 L2213.9 1988.6 L2214.5 1998.9 L2215.2 1998.6 L2215.8 2005.2 L2216.4 2027.0 L2217.1 2032.6 L2216.6 1985.0 L2216.2 1955.5 L2216.8 1952.5 L2217.5 1946.5 L2218.1 1949.0 L2218.7 1961.7 L2219.3 1972.2 L2220.0 1993.4 L2220.6 1977.2 L2219.9 1949.0 L2220.5 1956.9 L2221.2 1948.6 L2221.8 1950.1 L2222.4 1948.5 L2223.0 1957.5 L2223.7 1973.8 L2224.3 1962.0 L2223.8 1932.2 L2223.2 1925.1 L2223.8 1919.6 L2224.5 1923.7 L2225.2 1922.5 L2225.8 1911.0 L2226.5 1924.0 L2227.2 1938.3 L2227.9 1960.8 L2228.6 1954.4 L2229.1 1954.5 L2229.7 1912.1 L2230.2 1906.5 L2230.8 1929.5 L2231.3 1961.2 L2231.9 1942.5 L2231.4 1866.5 L2230.9 1868.8 L2230.4 1868.1 L2231.0 1850.9 L2231.6 1881.1 L2232.2 1842.6 L2232.8 1847.0 L2233.4 1867.8 L2234.0 1864.5 L2234.0 1808.4 L2233.3 1756.0 L2233.9 1742.5 L2234.6 1765.7 L2235.2 1765.0 L2235.8 1741.6 L2236.4 1764.9 L2237.1 1756.4 L2237.7 1758.0 L2238.3 1747.0 L2237.9 1777.4 L2237.6 1812.0 L2238.2 1807.8 L2238.8 1791.2 L2239.4 1807.9 L2240.1 1825.8 L2240.7 1822.2 L2241.3 1788.3 L2241.9 1804.8 L2241.9 1750.6 L2242.5 1725.4 L2243.1 1735.0 L2243.6 1755.4 L2244.2 1740.1 L2244.8 1741.6 L2244.4 1711.3 L2244.1 1719.9 L2244.7 1718.5 L2245.3 1729.3 L2245.9 1741.4 L2246.5 1725.4 L2247.1 1740.3 L2247.7 1736.1 L2247.0 1674.7 L2247.6 1681.0 L2248.3 1676.8 L2248.9 1643.1 L2249.6 1677.7 L2250.2 1663.9 L2250.9 1645.2 L2251.6 1642.9 L2252.3 1667.8 L2252.9 1650.3 L2253.6 1654.5 L2254.3 1670.0 L2255.0 1675.1 L2255.7 1678.3 L2255.0 1656.1 L2254.3 1687.4 L2253.6 1677.8 L2252.9 1656.8 L2252.3 1657.1 L2251.6 1636.7 L2250.9 1668.6 L2250.2 1615.4 L2249.5 1631.3 L2250.2 1609.9 L2250.8 1594.8 L2251.5 1620.3 L2252.1 1589.9 L2252.8 1578.9 L2253.5 1603.3 L2254.2 1631.2 L2254.9 1663.9 L2255.5 1681.2 L2256.1 1651.7 L2256.8 1681.8 L2257.4 1677.8 L2258.0 1664.0 L2258.6 1667.5 L2258.1 1633.8 L2257.5 1615.1 L2258.2 1614.3 L2258.8 1617.9 L2259.4 1612.9 L2260.1 1632.8 L2260.8 1623.7 L2261.4 1631.3 L2261.1 1565.2 L2260.7 1521.1 L2261.4 1543.4 L2262.0 1532.3 L2262.7 1540.2 L2263.3 1569.9 L2264.0 1555.4 L2263.6 1512.0 L2264.2 1505.1 L2264.8 1496.3 L2265.3 1521.7 L2265.9 1521.8 L2266.5 1490.4 L2266.5 1367.5 L2267.1 1386.5 L2267.8 1366.6 L2268.4 1384.6 L2269.1 1391.1 L2269.7 1367.8 L2270.4 1394.9 L2271.0 1410.4 L2271.7 1395.0 L2272.3 1389.2 L2271.7 1374.2 L2271.1 1337.7 L2270.6 1326.6 L2270.0 1277.7 L2269.4 1269.9 L2270.1 1295.5 L2270.8 1291.6 L2271.4 1327.2 L2272.1 1300.3 L2272.8 1329.7 L2273.5 1302.5 L2274.1 1333.4 L2274.8 1347.6 L2274.5 1268.1 L2275.1 1292.9 L2275.7 1275.0 L2276.3 1306.4 L2276.9 1293.9 L2277.5 1314.8 L2278.1 1331.3 L2278.8 1355.3 L2279.5 1304.0 L2280.2 1316.9 L2280.2 1194.0 L2280.9 1215.0 L2281.5 1160.5 L2282.2 1188.1 L2282.8 1198.7 L2283.5 1175.9 L2283.5 1136.1" fill="none" stroke="#1f5f82" stroke-width="6.0" stroke-linejoin="round" stroke-linecap="round"/>
<text x="112" y="3157" textLength="943" font-family="&quot;Liberation Sans&quot;, &quot;Noto Sans CJK SC&quot;, sans-serif" font-size="50" fill="#777777">数据来源：Wind，1968.1.2至2025.9.29。</text>
<text x="112" y="3235" textLength="840" font-family="&quot;Liberation Sans&quot;, &quot;Noto Sans CJK SC&quot;, sans-serif" font-size="50" fill="#777777">历史数据仅供参考，不代表未来表现。</text>
<g transform="translate(1385,3140) scale(0.072333)" fill="#ae2324">
<path d="M700 416 Q760 392 1075 388 C1310 475 1440 690 1440 906 C1440 1262 1150 1577 820 1590 L530 1487 L550 1442 Q800 1446 980 1387 A520 505 0 0 0 1330 910 A520 505 0 0 0 700 416 Z"/>
<path d="M700 416 Q760 392 1075 388 C1310 475 1440 690 1440 906 C1440 1262 1150 1577 820 1590 L530 1487 L550 1442 Q800 1446 980 1387 A520 505 0 0 0 1330 910 A520 505 0 0 0 700 416 Z" transform="rotate(180 810 908)"/>
<path d="M810 510 L1030 890 L585 890 Z"/>
<rect x="565" y="910" width="475" height="58"/><rect x="525" y="990" width="560" height="58"/><rect x="475" y="1075" width="660" height="58"/>
</g>
<g fill="#231815" fill-rule="evenodd" stroke="#231815" stroke-width="10" stroke-linejoin="miter">
<g transform="translate(1502 3168) scale(0.066313)"><path d="M240 78L340 78L275 195L275 445L165 445L165 240L90 240L90 185Z"/><path d="M415 78H520V445H415Z"/><path d="M415 375H800V445H415Z"/><path d="M350 215H700V280H350Z"/><path d="M690 110H775V225Q775 280 715 280H690Z"/><path d="M90 520H800V595H90Z"/><path d="M385 470H495V720H385Z"/><path d="M910 95H1580V150H910Z"/><path d="M925 150H1570V440Q1570 470 1540 470H925Z M1030 228H1465V262H1030Z M1030 312H1465V345H1030Z M1030 395H1465V425H1030Z"/><path d="M985 470L1105 470L1030 575L910 595L910 545L945 538Z"/><path d="M1075 505H1555V560H1075Z"/><path d="M1430 545L1575 545L1255 700L1180 720L910 720L910 670L1140 670Z"/><path d="M1005 580L1120 555L1400 670L1580 670L1580 720L1330 720L1040 612Z"/></g>
<g transform="translate(1606 3168) scale(0.066313)"><path d="M115 120H805V175H115Z"/><path d="M210 78H290V445H210Z"/><path d="M625 78H710V445H625Z"/><path d="M290 215H625V268H290Z"/><path d="M290 303H625V355H290Z"/><path d="M115 388H805V445H115Z"/><path d="M115 478L260 478L290 445L400 445L330 530L115 530Z"/><path d="M520 445L630 445L660 478L805 478L805 530L590 530Z"/><path d="M410 500H500V720H410Z"/><path d="M120 575H800V625H120Z"/><path d="M110 670H805V720H110Z"/><path d="M1045 78L1470 78L1595 190L1595 245L1490 245L1400 135L1110 135L1010 245L895 245L895 190Z"/><path d="M930 290H1560V350H930Z"/><path d="M1190 350H1300V670H1190Z"/><path d="M925 415H1560V470H925Z"/><path d="M925 415V520Q935 600 1010 600H1140V545H1045Q992 540 990 470Z"/><path d="M1560 415V520Q1550 600 1475 600H1350V545H1445Q1493 540 1495 470Z"/><path d="M900 655H1590V720H900Z"/></g>
</g>
<rect x="1507.6" y="3225" width="203.5" height="1.2" fill="#3b302e"/>
<rect x="1731.2" y="3167" width="2.4" height="78.6" fill="#8c8c8c"/>
<text x="1755" y="3222" textLength="643" font-family="&quot;Liberation Sans&quot;, &quot;Noto Sans CJK SC&quot;, sans-serif" font-weight="bold" font-size="43" fill="#231815">华夏基金全生命周期投资陪伴体系</text>
</svg>
<div class="cam">CHINA ASSET MANAGEMENT</div>
<header class="sr" style="left:557px;top:95px;width:1830px;text-align:right">
<h1 style="font-size:141px;line-height:190px">当前黄金涨到了什么位置？<br>国际金价突破3800美元/盎司<br>年内涨幅超40%</h1>
<h2 style="font-size:119px;line-height:150px">创1979年以来最大年度涨幅</h2>
</header>
<div class="sr" style="left:170px;top:970px;width:122px;text-align:right;font-size:50px;line-height:236.5px">4000<br>3500<br>3000<br>2500<br>2000<br>1500<br>1000<br>500<br>0</div>
<div class="sr" style="left:245px;top:2935px;font-size:50px;line-height:50px;word-spacing:400px">1968-01 1986-01 2004-01 2022-01</div>
<footer class="sr" style="left:110px;top:3105px;font-size:51px;line-height:78px">数据来源：Wind，1968.1.2至2025.9.29。<br>历史数据仅供参考，不代表未来表现。</footer>
<div class="sr" style="left:1507px;top:3170px;font-size:48px;line-height:48px">华夏基金</div>
<div class="sr" style="left:1755px;top:3182px;font-size:43px;line-height:46px">华夏基金全生命周期投资陪伴体系</div>
</body></html>
